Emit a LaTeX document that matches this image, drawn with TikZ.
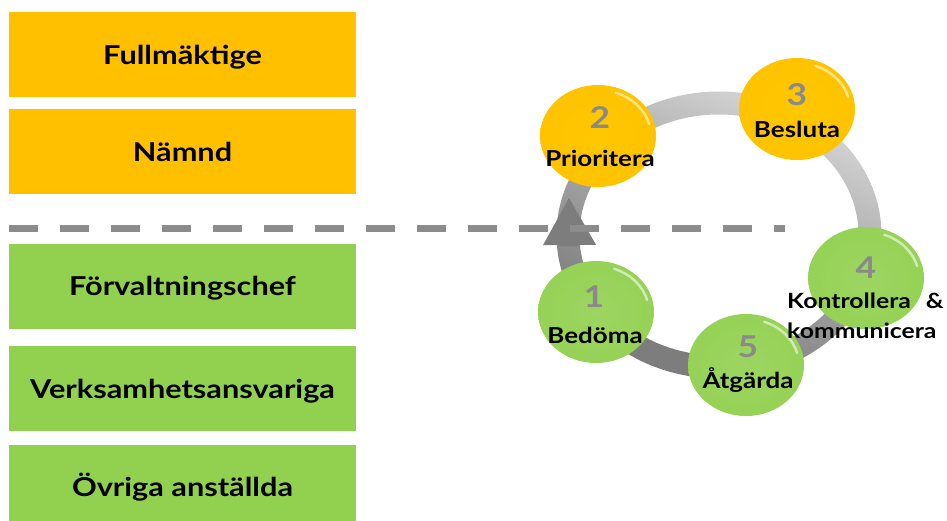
\documentclass[tikz,border=0pt]{standalone}
\usepackage{fontspec}
\setmainfont{Lato}[FakeStretch=1.18]
\usepackage{tikz}
\usetikzlibrary{positioning,shapes.geometric,arrows.meta}
\usepackage{xcolor}
\definecolor{govorange}{RGB}{255,192,0}
\definecolor{govgreen}{RGB}{146,208,80}
\definecolor{sepgray}{RGB}{140,140,140}
\definecolor{numgray}{RGB}{138,138,138}
\definecolor{ringlight}{RGB}{236,236,236}
\definecolor{ringmid}{RGB}{185,185,185}
\definecolor{ringdark}{RGB}{125,125,125}
\pgfdeclareradialshading{orangeball}{\pgfpoint{0bp}{0bp}}{color(0bp)=(govorange!88!yellow); color(38bp)=(govorange); color(47bp)=(govorange!94!black); color(50bp)=(govorange!82!black)}
\pgfdeclareradialshading{greenball}{\pgfpoint{0bp}{0bp}}{color(0bp)=(govgreen!90!white); color(38bp)=(govgreen); color(47bp)=(govgreen!94!black); color(50bp)=(govgreen!82!black)}
\pgfdeclareverticalshading{ringshade}{100bp}{color(0bp)=(ringdark); color(30bp)=(ringdark); color(62bp)=(ringmid); color(85bp)=(ringlight); color(100bp)=(ringlight)}
\tikzstyle{govbox} = [rectangle, minimum width=347pt, minimum height=85pt, inner sep=0pt, text height=19pt, text depth=0pt, font=\fontsize{26}{30}\selectfont\bfseries]
\tikzstyle{upperbox} = [govbox, fill=govorange]
\tikzstyle{lowerbox} = [govbox, fill=govgreen]
\tikzstyle{ball} = [ellipse, minimum width=116pt, minimum height=102pt, inner sep=0pt,
  path picture={\draw[white, opacity=0.55, line width=2.5pt, line cap=round]
    ([shift={(15:53pt and 46pt)}]path picture bounding box.center)
    arc[start angle=15, end angle=70, x radius=53pt, y radius=46pt];}]
\tikzstyle{ballnum} = [anchor=base, inner sep=0pt, text=numgray, font=\fontsize{30}{30}\selectfont\bfseries]
\tikzstyle{balllabel} = [anchor=base, inner sep=0pt, font=\fontsize{22}{30}\selectfont\bfseries]
\tikzstyle{cyclearrow} = [-{Triangle[width=53pt,length=47pt,line width=0pt]}, line width=20pt, color=ringdark, shorten <=20pt]
\tikzstyle{sepline} = [line width=7pt, color=sepgray, dash pattern=on 29pt off 22pt]

\begin{document}
\begin{tikzpicture}[x=1pt, y=-1pt]
\useasboundingbox (0,0) rectangle (947,520);

% Roles
\node (fullm) [upperbox] at (182.5,54.5) {Fullmäktige};
\node (namnd) [upperbox, below=12pt of fullm] {Nämnd};
\node (forv) [lowerbox, below=49pt of namnd] {Förvaltningschef};
\node (verks) [lowerbox, below=17pt of forv] {Verksamhetsansvariga};
\node (ovriga) [lowerbox, below=13pt of verks] {Övriga anställda};

% Ring
\coordinate (ringc) at (719,235);
\shade[shading=ringshade, shading angle=-25, even odd rule]
  (ringc) ellipse [x radius=162.5pt, y radius=143.5pt]
  (ringc) ellipse [x radius=139.5pt, y radius=120.5pt];

% Steps
\node (b1) [ball, shading=greenball] at (596,312) {};
\node (b2) [ball, shading=orangeball] at (598,136) {};
\node (b3) [ball, shading=orangeball] at (797,109) {};
\node (b4) [ball, shading=greenball] at (866,278) {};
\node (b5) [ball, shading=greenball] at (746,365) {};

\coordinate (arrowtip) at (569,198);
\draw[cyclearrow] (b1.120) -- (arrowtip);

\node (n1) [ballnum] at (594,307) {1};
\node (l1) [balllabel] at (595,343) {Bedöma};
\node (n2) [ballnum] at (600,128) {2};
\node (l2) [balllabel] at (600,166) {Prioritera};
\node (n3) [ballnum] at (797,105) {3};
\node (l3) [balllabel] at (797,137) {Besluta};
\node (n4) [ballnum] at (866,278) {4};
\node (l4) [balllabel, anchor=base west, align=left, font=\fontsize{21}{30}\selectfont\bfseries] at (787,338) {Kontrollera\hspace{15pt}\&\\kommunicera};
\node (n5) [ballnum] at (748,357) {5};
\node (l5) [balllabel] at (748,388) {Åtgärda};

% Divider
\coordinate (sepL) at (9,228);
\coordinate (sepR) at (785,228);
\draw[sepline] (sepL) -- (sepR);
\end{tikzpicture}
\end{document}
